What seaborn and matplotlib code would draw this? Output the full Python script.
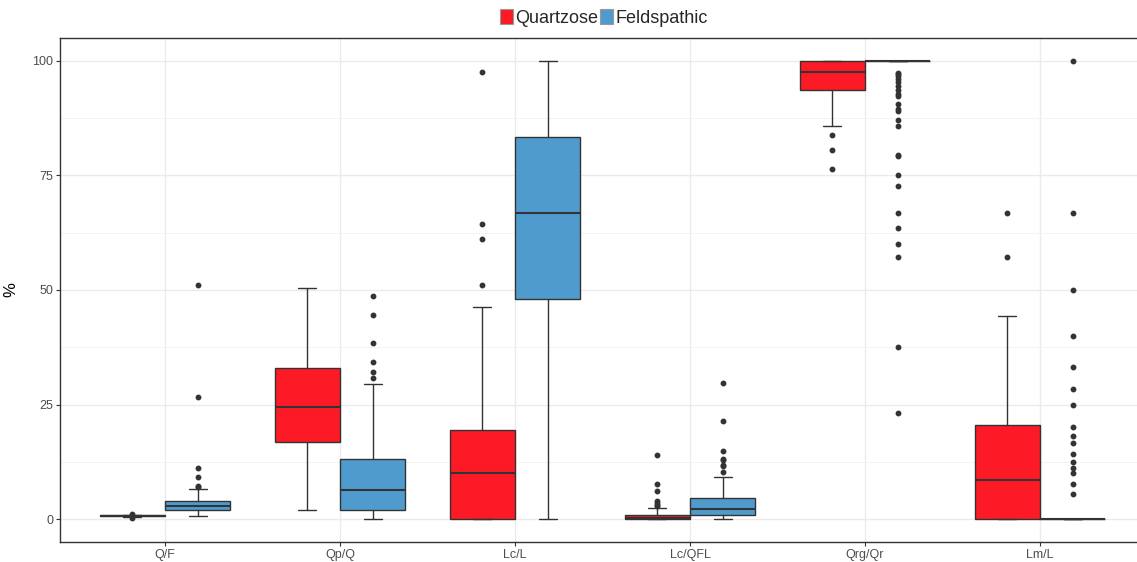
import matplotlib
matplotlib.use("Agg")
import matplotlib.pyplot as plt
import seaborn as sns
from matplotlib.patches import Patch
from matplotlib.ticker import FixedLocator

# ---------------- data ----------------
categories = ["Q/F", "Qp/Q", "Lc/L", "Lc/QFL", "Qrg/Qr", "Lm/L"]
groups = ["Quartzose", "Feldspathic"]
colors = ["#FC1A26", "#509BCE"]

quartzose_whislo = [0.55, 2.0, 0.0, 0.0, 85.9, 0.0]
quartzose_q1 = [0.65, 16.9, 0.0, 0.0, 93.7, 0.0]
quartzose_med = [0.75, 24.5, 10.0, 0.2, 97.5, 8.6]
quartzose_q3 = [0.85, 32.9, 19.4, 1.0, 100.0, 20.5]
quartzose_whishi = [1.0, 50.4, 46.2, 2.5, 100.0, 44.4]
quartzose_fliers = [
    [0.3, 1.2],
    [],
    [51.0, 61.1, 64.5, 97.5],
    [2.8, 3.1, 3.5, 3.9, 6.2, 7.7, 13.9],
    [76.4, 80.5, 83.9],
    [57.1, 66.7],
]

feldspathic_whislo = [0.7, 0.0, 0.0, 0.0, 100.0, 0.0]
feldspathic_q1 = [1.9, 2.0, 48.1, 0.95, 100.0, 0.0]
feldspathic_med = [2.9, 6.3, 66.7, 2.25, 100.0, 0.0]
feldspathic_q3 = [3.85, 13.2, 83.3, 4.6, 100.0, 0.0]
feldspathic_whishi = [6.6, 29.4, 100.0, 9.2, 100.0, 0.0]
feldspathic_fliers = [
    [6.9, 7.2, 9.1, 11.2, 26.6, 51.0],
    [30.7, 32.2, 34.2, 38.5, 44.5, 48.6],
    [],
    [10.3, 11.6, 11.8, 12.8, 13.1, 14.9, 21.4, 29.8],
    [23.1, 37.5, 57.1, 60.0, 63.6, 66.7, 72.8, 75.0, 79.3, 79.5, 85.7, 87.0,
     89.0, 89.4, 90.7, 92.3, 92.7, 93.7, 94.5, 95.3, 96.0, 96.6, 97.1, 97.4],
    [5.5, 7.7, 10.0, 11.1, 12.5, 14.3, 16.6, 18.1, 20.0, 25.0, 28.5, 33.3,
     40.0, 50.0, 66.7, 100.0],
]

y_ticks = [0, 25, 50, 75, 100]
y_minor = [12.5, 37.5, 62.5, 87.5]
y_label = "%"

# ---------------- style ----------------
sns.set_theme(style="white")
plt.rcParams["font.family"] = ["Liberation Sans", "DejaVu Sans"]

fig = plt.figure(figsize=(11.37, 5.62), dpi=100)
ax = fig.add_axes([60 / 1137, 20 / 562, 1085 / 1137, 504 / 562])

edge = "#333333"


def make_stats(wl, q1, med, q3, wh, fl):
    out = []
    for i in range(len(med)):
        out.append(dict(whislo=wl[i], q1=q1[i], med=med[i], q3=q3[i],
                        whishi=wh[i], fliers=fl[i]))
    return out


series = [
    make_stats(quartzose_whislo, quartzose_q1, quartzose_med, quartzose_q3,
               quartzose_whishi, quartzose_fliers),
    make_stats(feldspathic_whislo, feldspathic_q1, feldspathic_med,
               feldspathic_q3, feldspathic_whishi, feldspathic_fliers),
]

width = 0.375
offsets = [-width / 2, width / 2]
for stats, off, col in zip(series, offsets, colors):
    pos = [i + off for i in range(len(categories))]
    ax.bxp(stats, positions=pos, widths=width * 0.99, patch_artist=True,
           capwidths=0.1, manage_ticks=False,
           boxprops=dict(facecolor=col, edgecolor=edge, linewidth=1.0),
           medianprops=dict(color=edge, linewidth=1.5),
           whiskerprops=dict(color=edge, linewidth=1.0),
           capprops=dict(color=edge, linewidth=1.0),
           flierprops=dict(marker="o", markerfacecolor=edge,
                           markeredgecolor=edge, markersize=3.2, linestyle="none"),
           zorder=3)

ax.set_xlim(-0.6, len(categories) - 1 + 0.6)
ax.set_ylim(-5, 105)
ax.set_xticks(range(len(categories)))
ax.set_xticklabels(categories)
ax.set_yticks(y_ticks)
ax.yaxis.set_minor_locator(FixedLocator(y_minor))

ax.grid(True, which="major", axis="both", color="#EBEBEB", linewidth=1.0, zorder=0)
ax.grid(True, which="minor", axis="y", color="#F2F2F2", linewidth=0.6, zorder=0)
ax.set_axisbelow(True)

for s in ax.spines.values():
    s.set_color(edge)
    s.set_linewidth(1.0)

ax.tick_params(axis="both", which="major", length=3, width=0.8, color=edge,
               labelcolor="#4D4D4D", labelsize=9, pad=2, bottom=True, left=True)
ax.tick_params(axis="y", which="minor", length=0)
ax.set_ylabel(y_label, fontsize=12, color="black", labelpad=10)
ax.set_xlabel("")

handles = [Patch(facecolor=c, edgecolor="#999999", linewidth=0.8) for c in colors]
fig.legend(handles, groups, loc="center", bbox_to_anchor=(604 / 1137, 1 - 18 / 562),
           ncol=2, frameon=False, fontsize=13, handlelength=0.7, handleheight=0.9,
           handletextpad=0.15, columnspacing=0.1, borderaxespad=0)

fig.savefig("out.png", dpi=100)
